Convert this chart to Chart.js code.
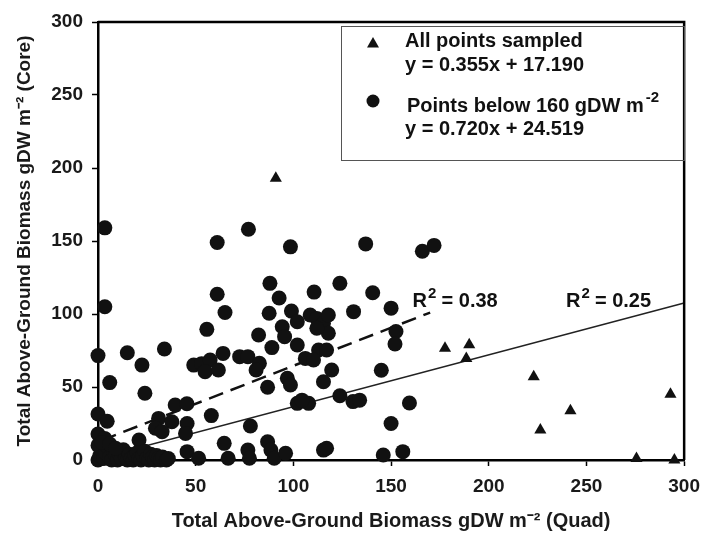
<!DOCTYPE html>
<html>
<head>
<meta charset="utf-8">
<script src="https://cdn.jsdelivr.net/npm/chart.js@4.4.1/dist/chart.umd.min.js"></script>
<style>
  html, body { margin: 0; padding: 0; background: #fff; }
  #wrap { width: 709px; height: 536px; }
</style>
</head>
<body>
<div id="wrap"><canvas id="biomass" width="709" height="536"></canvas></div>
<script>
// points above 160 gDW m-2 (triangles)
let triX = [91, 177.6, 190, 188.5, 223, 226.4, 241.8, 275.6, 293, 295];
let triY = [193, 76.5, 79, 69.6, 57, 20.5, 33.8, 1, 45, 0];

// points below 160 gDW m-2 (circles)
let circX = [3.5, 61, 77, 98.5, 137, 166, 172,
    3.5, 61, 65, 55.7, 88, 92.7, 87.6, 99, 94.3, 95.5, 82.2, 89, 102, 102, 110.6, 123.8, 140.6, 130.8, 150,
    108.6, 112, 115.4, 117.9, 117.9, 112, 152.5, 152, 112.9, 117, 106.1, 110.3,
    0, 15, 34, 22.5, 6, 24, 49, 53, 57.4, 54.8, 61.6, 64, 72.5, 76.7, 82.6, 80.9, 86.8, 96.9, 98.5,
    119.6, 115.4, 145, 123.8, 130.5, 133.9, 159.4, 102, 107.8, 104.4,
    0, 4.7, 39.5, 45.5, 31, 37.8, 29.4, 32.8, 45.6, 44.8, 58, 78, 150, 0, 3.4, 21, 64.6, 86.8, 88.5,
    90.2, 96, 76.7, 77.5, 66.6, 45.6, 51.5, 115.4, 117, 146, 156,
    0, 1, 2, 0, 3, 4, 5, 6, 7, 8, 9, 10, 11, 12, 13, 14, 15, 16, 17, 18, 19, 20, 21, 22, 23, 24, 25,
    26, 27, 28, 29, 30, 31, 32, 33, 35, 36, 2, 6, 9];
let circY = [159, 149, 158, 146, 148, 143, 147,
    105, 113.5, 101, 89.5, 121, 111, 100.5, 102, 91.3, 84.5, 85.6, 77, 94.7, 78.8, 115, 121, 114.6, 101.6, 104,
    99.3, 97, 93.6, 99.3, 86.8, 90.2, 88, 79.5, 75.3, 75.3, 69.6, 68.5,
    71.5, 73.5, 76, 65, 53, 45.7, 65, 66, 68.5, 60.5, 61.6, 73, 70.8, 70.8, 66.2, 61.6, 49.8, 56, 51.4,
    61.6, 53.6, 61.5, 44, 40, 41, 39, 38.8, 38.8, 41,
    31.5, 26.5, 37.7, 38.5, 28.5, 26.2, 21.7, 19.4, 25, 18.2, 30.4, 23.3, 25, 17.8, 14.8, 13.7, 11.4, 12.5, 6.8,
    1.2, 4.6, 6.8, 1.2, 1.2, 5.7, 1.2, 6.8, 8, 3.4, 5.7,
    0, 3, 7, 10, 1, 5, 9, 2, 0, 6, 3, 0, 4, 1, 7, 2, 0, 4, 1, 0, 3, 5, 1, 0, 3, 6, 1,
    0, 4, 2, 0, 3, 1, 0, 2, 0, 1, 12, 11, 8];

// fitted lines as drawn (end points)
let allFitX = [0, 300];
let allFitY = [1, 107.5];
let lowFitX = [2, 170];
let lowFitY = [13.5, 101];

let axisTicks = [0, 50, 100, 150, 200, 250, 300];

function pairs(xs, ys) {
    let out = [];
    for (let i = 0; i < xs.length; i++) out.push({x: xs[i], y: ys[i]});
    return out;
}

const FONT = '"Liberation Sans", Arial, sans-serif';

// legend box, R^2 labels and the closing frame
let extras = {
    id: 'extras',
    afterDraw(chart) {
        let c = chart.ctx;
        let a = chart.chartArea;
        let xs = chart.scales.x, ys = chart.scales.y;
        c.save();
        c.strokeStyle = '#000';
        c.lineWidth = 2.5;
        c.beginPath();
        c.moveTo(a.left, a.top);
        c.lineTo(a.right, a.top);
        c.lineTo(a.right, a.bottom);
        c.stroke();

        // legend
        c.lineWidth = 1;
        c.strokeStyle = '#555';
        c.strokeRect(341.5, 26.5, 343, 134);
        c.fillStyle = '#111';
        c.beginPath();
        c.moveTo(373, 37);
        c.lineTo(379, 47.5);
        c.lineTo(367, 47.5);
        c.closePath();
        c.fill();
        c.beginPath();
        c.arc(373, 101, 6.5, 0, Math.PI * 2);
        c.fill();
        c.font = 'bold 20px ' + FONT;
        c.textBaseline = 'alphabetic';
        c.textAlign = 'left';
        c.fillText('All points sampled', 405, 47);
        c.fillText('y = 0.355x + 17.190', 405, 71);
        let t = 'Points below 160 gDW m';
        c.fillText(t, 407, 112);
        let w = c.measureText(t).width;
        c.font = 'bold 15px ' + FONT;
        c.fillText('-2', 407 + w + 2, 102);
        c.font = 'bold 20px ' + FONT;
        c.fillText('y = 0.720x + 24.519', 405, 135);

        // R^2 labels
        let r2 = [[161, '0.38'], [239.5, '0.25']];
        r2.forEach(function (r) {
            let px = xs.getPixelForValue(r[0]);
            let py = ys.getPixelForValue(104.5);
            c.font = 'bold 20px ' + FONT;
            c.fillText('R', px, py);
            let rw = c.measureText('R').width;
            c.font = 'bold 15px ' + FONT;
            c.fillText('2', px + rw + 1, py - 9);
            c.font = 'bold 20px ' + FONT;
            c.fillText(' = ' + r[1], px + rw + 9, py);
        });
        c.restore();
    }
};

let tickOpts = {
    color: '#1a1a1a',
    font: {family: FONT, size: 19, weight: 'bold'},
    padding: 9,
    autoSkip: false
};

let ctx1 = document.getElementById('biomass').getContext('2d');
window.myChart = new Chart(ctx1, {
    type: 'scatter',
    data: {
        datasets: [{
            label: 'All points sampled',
            data: pairs(triX, triY),
            pointStyle: 'triangle',
            pointRadius: 7,
            backgroundColor: '#111',
            borderColor: '#111',
            borderWidth: 0,
            clip: false
        }, {
            label: 'Points below 160 gDW m-2',
            data: pairs(circX, circY),
            pointStyle: 'circle',
            pointRadius: 7.5,
            backgroundColor: '#111',
            borderColor: '#111',
            borderWidth: 0,
            clip: false
        }, {
            type: 'line',
            label: 'fit all',
            data: pairs(allFitX, allFitY),
            borderColor: '#222',
            borderWidth: 1.5,
            pointRadius: 0,
            fill: false
        }, {
            type: 'line',
            label: 'fit below 160',
            data: pairs(lowFitX, lowFitY),
            borderColor: '#111',
            borderWidth: 2.5,
            borderDash: [15, 8],
            pointRadius: 0,
            fill: false
        }]
    },
    options: {
        responsive: false,
        animation: false,
        events: [],
        layout: {padding: {top: 22, right: 17, left: 0, bottom: 0}},
        plugins: {legend: {display: false}, tooltip: {enabled: false}},
        scales: {
            x: {
                type: 'linear',
                min: 0,
                max: 300,
                afterBuildTicks(s) { s.ticks = axisTicks.map(v => ({value: v})); },
                afterFit(s) { s.height = 76; },
                ticks: tickOpts,
                grid: {drawOnChartArea: false, drawTicks: true, tickLength: 6, tickWidth: 1.5, tickColor: '#000'},
                border: {display: true, color: '#000', width: 2.5},
                title: {
                    display: true,
                    text: 'Total Above-Ground Biomass gDW m\u207B\u00B2 (Quad)',
                    color: '#1a1a1a',
                    font: {family: FONT, size: 20, weight: 'bold'},
                    padding: {top: 0, bottom: 3}
                }
            },
            y: {
                type: 'linear',
                min: 0,
                max: 300,
                afterBuildTicks(s) { s.ticks = axisTicks.map(v => ({value: v})); },
                afterFit(s) { s.width = 98; },
                ticks: tickOpts,
                grid: {drawOnChartArea: false, drawTicks: true, tickLength: 6, tickWidth: 1.5, tickColor: '#000'},
                border: {display: true, color: '#000', width: 2.5},
                title: {
                    display: true,
                    text: 'Total Above-Ground Biomass gDW m\u207B\u00B2 (Core)',
                    color: '#1a1a1a',
                    font: {family: FONT, size: 19, weight: 'bold'},
                    padding: {top: 13, bottom: 0}
                }
            }
        }
    },
    plugins: [extras]
});
</script>
</body>
</html>
